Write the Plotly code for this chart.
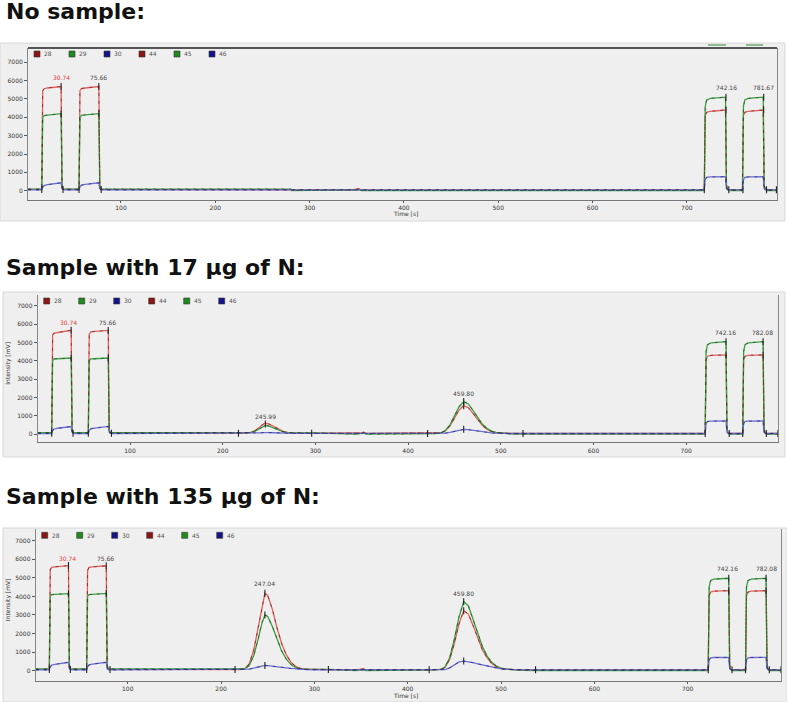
import plotly.graph_objects as go

W, H = 787, 702

# ---------------- values ----------------
XTICKS = [100, 200, 300, 400, 500, 600, 700]
YTICKS = [0, 1000, 2000, 3000, 4000, 5000, 6000, 7000]
LEGEND_LABELS = ['28', '29', '30', '44', '45', '46']

# panel 1: no sample
P1_TIME = [1.5, 16, 17, 18.5, 22, 28, 33, 36.5, 37.5, 38.5, 40,
           55.5, 56.5, 58, 62, 68, 73, 76.5, 77.5, 78.5, 80,
           120, 280, 281, 345, 349, 352, 355, 360,
           718.5, 719.5, 721, 725, 732, 741, 742, 743, 744.5,
           759, 760, 761.5, 765, 772, 781, 782, 783, 784.5, 795.5]
P1_M28 = [70, 70, 5450, 5560, 5600, 5620, 5640, 5680, 300, 90, 70,
          70, 5450, 5570, 5600, 5620, 5640, 5680, 300, 90, 70,
          60, 60, 50, 50, 70, 110, 40, 50,
          50, 4100, 4280, 4330, 4360, 4400, 300, 90, 50,
          50, 4100, 4280, 4330, 4360, 4400, 300, 90, 50, 50]
P1_M29 = [90, 90, 4000, 4100, 4120, 4150, 4170, 4200, 250, 90, 90,
          90, 4000, 4110, 4130, 4150, 4180, 4200, 250, 90, 90,
          90, 90, 10, 10, 40, 60, 10, 10,
          10, 4600, 4950, 5030, 5060, 5100, 300, 80, 10,
          10, 4600, 4950, 5030, 5060, 5100, 300, 80, 10, 10]
P1_M30 = [40, 40, 200, 280, 330, 370, 400, 430, 120, 60, 40,
          40, 200, 300, 340, 380, 410, 430, 120, 60, 40,
          40, 40, 45, 45, 50, 40, 45, 45,
          45, 600, 730, 750, 755, 760, 120, 60, 45,
          45, 600, 730, 750, 755, 760, 120, 60, 45, 45]
P1_MARK_T = [16, 38.5, 55.5, 79, 718.5, 744.5, 759.5, 784.5, 795,
             36.5, 36.5, 76.5, 76.5, 741.5, 741.5, 781.5, 781.5]
P1_MARK_Y = [60, 60, 60, 60, 50, 50, 50, 50, 50,
             5680, 4200, 5680, 4200, 5100, 4400, 5100, 4400]
P1_LABELS = ['30.74', '75.66', '742.16', '781.67']
P1_LABEL_T = [36.5, 76, 742, 781]
P1_LABEL_Y = [6160, 6160, 5620, 5620]

# panel 2: sample with 17 ug of N
P2_TIME = [0.5, 15.5, 16.5, 18, 22, 28, 33, 36.5, 37.5, 38.5, 40,
           55, 56, 57.5, 62, 68, 73, 76.5, 77.5, 78.5, 80,
           120, 180, 217,
           225, 230, 235, 240, 243, 246, 250, 255, 260, 265, 270, 278,
           296, 345, 349, 352, 355, 360,
           421, 430, 436, 440, 445, 450, 455, 460, 465, 470, 475, 480, 485, 490, 495, 500, 510, 524,
           720.5, 721.5, 723, 727, 734, 743, 744, 745, 746.5,
           761, 762, 763.5, 767, 774, 783, 784, 785, 786.5, 799]
P2_M28 = [70, 70, 5400, 5500, 5540, 5580, 5620, 5660, 300, 90, 70,
          70, 5450, 5570, 5600, 5610, 5620, 5650, 300, 90, 70,
          60, 60, 60,
          70, 100, 200, 400, 530, 600, 560, 430, 280, 160, 100, 70,
          60, 50, 70, 110, 40, 50,
          50, 55, 85, 180, 440, 880, 1320, 1560, 1450, 1140, 790, 490, 280, 150, 90, 65, 50, 50,
          50, 4050, 4250, 4300, 4310, 4320, 300, 90, 50,
          50, 4050, 4250, 4300, 4310, 4320, 300, 90, 50, 50]
P2_M29 = [90, 90, 4000, 4100, 4110, 4120, 4130, 4150, 250, 90, 90,
          90, 4000, 4100, 4110, 4120, 4130, 4150, 250, 90, 90,
          90, 90, 75,
          75, 95, 170, 330, 430, 480, 450, 350, 230, 140, 90, 75,
          75, 10, 40, 60, 10, 10,
          10, 40, 90, 200, 500, 1000, 1500, 1780, 1650, 1300, 900, 560, 320, 170, 100, 60, 20, 10,
          10, 4500, 4880, 4980, 5010, 5040, 300, 80, 10,
          10, 4500, 4880, 4980, 5010, 5040, 300, 80, 10, 10]
P2_M30 = [40, 40, 200, 290, 330, 360, 390, 420, 120, 60, 40,
          40, 200, 300, 340, 370, 400, 430, 120, 60, 40,
          40, 40, 50,
          50, 55, 65, 80, 90, 100, 95, 85, 70, 60, 55, 50,
          50, 45, 50, 40, 45, 45,
          45, 45, 50, 60, 100, 160, 230, 270, 250, 210, 170, 130, 100, 75, 60, 50, 45, 45,
          45, 580, 700, 720, 725, 725, 120, 60, 45,
          45, 580, 700, 720, 725, 725, 120, 60, 45, 45]
P2_MARK_T = [15.5, 38.5, 55, 80, 217, 296, 421, 524, 720.5, 746.5, 761, 786.5, 799,
             36.5, 36.5, 76.5, 76.5, 246, 460, 460, 460, 743, 743, 783, 783]
P2_MARK_Y = [60, 60, 60, 60, 60, 60, 50, 50, 50, 50, 50, 50, 50,
             5660, 4150, 5650, 4150, 560, 1780, 1560, 270, 5040, 4320, 5040, 4320]
P2_LABELS = ['30.74', '75.66', '245.99', '459.80', '742.16', '782.08']
P2_LABEL_T = [33.5, 76, 246, 460, 742, 782]
P2_LABEL_Y = [6100, 6100, 960, 2230, 5530, 5530]

# panel 3: sample with 135 ug of N
P3_TIME = [1.5, 16, 17, 18.5, 22, 28, 33, 36.5, 37.5, 38.5, 40,
           56, 57, 58.5, 62, 68, 73, 77, 78, 79, 81,
           120, 180, 215,
           220, 225, 230, 235, 240, 244, 247, 250, 255, 260, 265, 270, 275, 280, 285, 292, 300,
           315, 345, 349, 352, 355, 360,
           423, 430, 436, 440, 445, 450, 455, 460, 465, 470, 475, 480, 485, 490, 495, 500, 505, 510, 515, 525, 537,
           722, 723, 724.5, 728, 735, 744, 745, 746, 747.5,
           762, 763, 764.5, 768, 775, 784, 785, 786, 787.5, 800]
P3_M28 = [70, 70, 5450, 5560, 5590, 5610, 5630, 5660, 300, 90, 70,
          70, 5400, 5560, 5590, 5610, 5630, 5650, 300, 90, 70,
          60, 60, 60,
          60, 100, 350, 1100, 2400, 3600, 4170, 4050, 3300, 2300, 1450, 850, 450, 230, 130, 80, 60,
          60, 50, 70, 110, 40, 50,
          50, 50, 75, 180, 610, 1480, 2520, 3230, 3050, 2440, 1740, 1130, 700, 390, 220, 120, 80, 60, 55, 50, 50,
          50, 4050, 4230, 4280, 4300, 4310, 300, 90, 50,
          50, 4050, 4230, 4280, 4300, 4310, 300, 90, 50, 50]
P3_M29 = [90, 90, 4000, 4100, 4110, 4120, 4130, 4150, 250, 90, 90,
          90, 4000, 4100, 4110, 4120, 4130, 4160, 250, 90, 90,
          90, 90, 75,
          75, 90, 260, 800, 1750, 2600, 3000, 2920, 2380, 1660, 1050, 620, 330, 170, 100, 75, 70,
          70, 10, 40, 60, 10, 10,
          10, 40, 80, 200, 700, 1700, 2900, 3715, 3500, 2800, 2000, 1300, 800, 450, 250, 140, 90, 60, 45, 20, 10,
          10, 4500, 4850, 4930, 4950, 4975, 300, 80, 10,
          10, 4500, 4850, 4930, 4950, 4975, 300, 80, 10, 10]
P3_M30 = [40, 40, 200, 300, 340, 380, 410, 450, 120, 60, 40,
          40, 200, 310, 350, 390, 420, 450, 120, 60, 40,
          40, 40, 50,
          50, 55, 80, 140, 210, 260, 280, 270, 250, 220, 180, 150, 120, 95, 75, 60, 50,
          50, 45, 50, 40, 45, 45,
          45, 45, 50, 60, 150, 330, 470, 520, 490, 430, 370, 310, 250, 190, 140, 100, 75, 60, 50, 45, 45,
          45, 580, 690, 710, 715, 720, 120, 60, 45,
          45, 580, 690, 710, 715, 720, 120, 60, 45, 45]
P3_MARK_T = [16, 38.5, 56, 81, 215, 315, 423, 537, 722, 747.5, 762, 787.5, 800,
             36.5, 36.5, 77, 77, 247, 247, 247, 460, 460, 460, 744, 744, 784, 784]
P3_MARK_Y = [60, 60, 60, 60, 60, 60, 50, 50, 50, 50, 50, 50, 50,
             5660, 4150, 5650, 4160, 4170, 3000, 280, 3715, 3230, 520, 4975, 4310, 4975, 4310]
P3_LABELS = ['30.74', '75.66', '247.04', '459.80', '742.16', '782.08']
P3_LABEL_T = [35.7, 75.7, 247, 460, 743, 784]
P3_LABEL_Y = [6050, 6050, 4670, 4170, 5510, 5510]

TITLES = ['No sample:', 'Sample with 17 \u03bcg of N:', 'Sample with 135 \u03bcg of N:']

# ---------------- styling ----------------
LINE_COLORS = ['#e3625c', '#3f9e45', '#6d6fd2']     # 28, 29, 30
DARK_COLORS = ['#5a1010', '#0f4a14', '#15156a']     # 44, 45, 46
LEGEND_COLORS = ['#8b1414', '#1f8a1f', '#14148a', '#8b1414', '#1f8a1f', '#14148a']
BG = '#efefef'


def px(x):
    ''' pixel x -> paper fraction '''
    return x / W


def py(y):
    ''' pixel y -> paper fraction (pixel y measured from top) '''
    return 1 - y / H


panels = [
    dict(t=P1_TIME, m=[P1_M28, P1_M29, P1_M30], mt=P1_MARK_T, my=P1_MARK_Y,
         lab=P1_LABELS, lt=P1_LABEL_T, ly=P1_LABEL_Y,
         plot=(28, 777, 48, 200), card=(0, 785, 43, 221), xr=[1.4, 795.6], yr=[-507, 7780],
         title_y=11.5, ytitle=False, xtitle_y=213.5),
    dict(t=P2_TIME, m=[P2_M28, P2_M29, P2_M30], mt=P2_MARK_T, my=P2_MARK_Y,
         lab=P2_LABELS, lt=P2_LABEL_T, ly=P2_LABEL_Y,
         plot=(37.7, 778.3, 295, 442.3), card=(3, 785, 292, 457), xr=[0.4, 799.4], yr=[-435, 7580],
         title_y=267, ytitle=True, xtitle_y=None),
    dict(t=P3_TIME, m=[P3_M28, P3_M29, P3_M30], mt=P3_MARK_T, my=P3_MARK_Y,
         lab=P3_LABELS, lt=P3_LABEL_T, ly=P3_LABEL_Y,
         plot=(35.7, 781, 529.3, 681), card=(3, 787, 528, 702), xr=[1.4, 800], yr=[-555, 7614],
         title_y=496.5, ytitle=True, xtitle_y=695),
]

fig = go.Figure()
shapes, annotations = [], []
layout_axes = {}

for i, p in enumerate(panels):
    s = '' if i == 0 else str(i + 1)
    xa, ya = 'x' + s, 'y' + s
    # coloured traces (28, 29, 30) and the darker dashed overlays (44, 45, 46)
    for k in range(3):
        fig.add_trace(go.Scatter(x=p['t'], y=p['m'][k], mode='lines', xaxis=xa, yaxis=ya,
                                 name=LEGEND_LABELS[k], showlegend=False, hoverinfo='skip',
                                 line=dict(color=LINE_COLORS[k], width=1.3)))
    for k in range(3):
        fig.add_trace(go.Scatter(x=p['t'], y=p['m'][k], mode='lines', xaxis=xa, yaxis=ya,
                                 name=LEGEND_LABELS[k + 3], showlegend=False, hoverinfo='skip',
                                 opacity=0.6, line=dict(color=DARK_COLORS[k], width=1, dash='3px,5px')))
    # integration / apex tick marks
    fig.add_trace(go.Scatter(x=p['mt'], y=p['my'], mode='markers', xaxis=xa, yaxis=ya,
                             showlegend=False, hoverinfo='skip',
                             marker=dict(symbol='line-ns', size=5, line=dict(width=1.1, color='#222'))))

    x0, x1, y0, y1 = p['plot']
    layout_axes['xaxis' + s] = dict(domain=[px(x0), px(x1)], anchor=ya, range=p['xr'],
                                    showgrid=False, zeroline=False, showline=True, linecolor='#777',
                                    ticks='outside', ticklen=2, tickcolor='#555', tickvals=XTICKS,
                                    tickfont=dict(size=6, color='#333', family='DejaVu Sans'))
    layout_axes['yaxis' + s] = dict(domain=[py(y1), py(y0)], anchor=xa, range=p['yr'],
                                    showgrid=False, zeroline=False, showline=True, linecolor='#888',
                                    mirror=True, ticks='outside', ticklen=3, tickcolor='#555',
                                    tickvals=YTICKS, tickformat='d',
                                    tickfont=dict(size=6, color='#333', family='DejaVu Sans'))

    # grey chart card behind each plot
    cx0, cx1, cy0, cy1 = p['card']
    shapes.append(dict(type='rect', xref='paper', yref='paper', layer='below',
                       x0=px(cx0), x1=px(cx1), y0=py(cy1), y1=py(cy0),
                       fillcolor=BG, line=dict(color='#d8d8d8', width=1)))

    # legend squares + labels
    for j, lab in enumerate(LEGEND_LABELS):
        lx = x0 + 9 + 35 * j
        ly = y0 + 6
        shapes.append(dict(type='rect', xref='paper', yref='paper',
                           x0=px(lx - 3), x1=px(lx + 3), y0=py(ly + 3), y1=py(ly - 3),
                           fillcolor=LEGEND_COLORS[j], line=dict(color='#333', width=0.6)))
        annotations.append(dict(x=px(lx + 5), y=py(ly), xref='paper', yref='paper', text=lab,
                                showarrow=False, xanchor='left', yanchor='middle',
                                font=dict(size=6, color='#555', family='DejaVu Sans')))

    # peak retention-time labels
    for j, (txt, t, v) in enumerate(zip(p['lab'], p['lt'], p['ly'])):
        annotations.append(dict(x=t, y=v, xref=xa, yref=ya, text=txt, showarrow=False,
                                xanchor='center', yanchor='middle',
                                font=dict(size=6, family='DejaVu Sans',
                                          color='#e04040' if j == 0 else '#444')))

    # panel heading
    annotations.append(dict(x=px(4), y=py(p['title_y']), xref='paper', yref='paper',
                            text='<b>' + TITLES[i] + '</b>', showarrow=False,
                            xanchor='left', yanchor='middle',
                            font=dict(size=22, color='#111', family='DejaVu Sans')))
    if p['ytitle']:
        annotations.append(dict(x=px(8), y=py((y0 + y1) / 2 - 5), xref='paper', yref='paper',
                                text='Intensity [mV]', textangle=-90, showarrow=False,
                                xanchor='center', yanchor='middle',
                                font=dict(size=6, color='#333', family='DejaVu Sans')))
    if p['xtitle_y'] is not None:
        annotations.append(dict(x=px(405), y=py(p['xtitle_y']), xref='paper', yref='paper',
                                text='Time [s]', showarrow=False,
                                xanchor='center', yanchor='middle',
                                font=dict(size=6, color='#333', family='DejaVu Sans')))

# dark top border of the first chart, plus the clipped green traces sitting on it
shapes.append(dict(type='line', xref='paper', yref='paper', x0=px(28), x1=px(777),
                   y0=py(48), y1=py(48), line=dict(color='#555', width=2)))
for gx0, gx1 in [(708, 726), (746, 763)]:
    shapes.append(dict(type='line', xref='paper', yref='paper', x0=px(gx0), x1=px(gx1),
                       y0=py(45), y1=py(45), line=dict(color='#6aa86a', width=1.5)))

fig.update_layout(
    width=W, height=H,
    margin=dict(l=0, r=0, t=0, b=0),
    paper_bgcolor='white',
    plot_bgcolor=BG,
    shapes=shapes,
    annotations=annotations,
    showlegend=False,
    **layout_axes,
)

# drop the browser's default 8px body margin so the figure fills the window
fig.write_html("out.html", config={'displayModeBar': False},
               post_script="document.body.style.margin='0';")
